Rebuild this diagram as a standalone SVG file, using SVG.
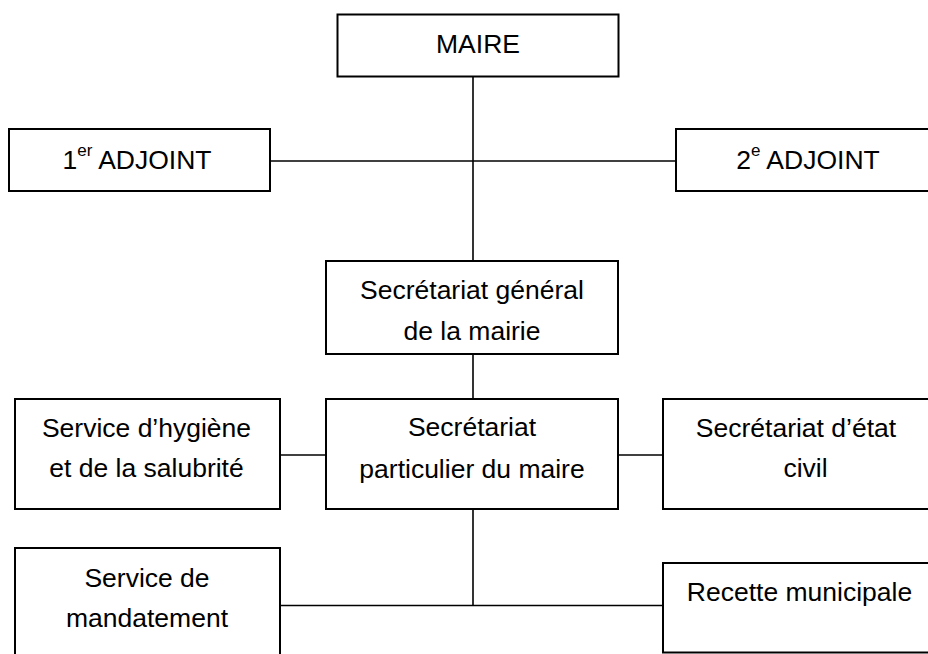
<svg xmlns="http://www.w3.org/2000/svg" width="928" height="654" viewBox="0 0 928 654">
<style>
.box{fill:#fff;stroke:#000;stroke-width:2}
.ln{fill:none;stroke:#000;stroke-width:1.6}
.t{font-family:"Liberation Sans",Arial,sans-serif;font-size:26.5px;fill:#000;text-anchor:middle}
.sup{font-size:17px}
</style>
<rect width="928" height="654" fill="#fff"/>
<g id="connectors">
<line class="ln" x1="473" y1="76" x2="473" y2="261"/>
<line class="ln" x1="270" y1="161" x2="676" y2="161"/>
<line class="ln" x1="473" y1="354" x2="473" y2="399"/>
<line class="ln" x1="280" y1="455" x2="326" y2="455"/>
<line class="ln" x1="618" y1="455" x2="663" y2="455"/>
<line class="ln" x1="473" y1="509" x2="473" y2="605.5"/>
<line class="ln" x1="280" y1="605.5" x2="663" y2="605.5"/>
</g>
<g id="maire">
<rect class="box" x="337.5" y="14.5" width="281" height="62"/>
<text class="t" x="478" y="53">MAIRE</text>
</g>
<g id="adjoint1">
<rect class="box" x="9" y="129" width="261" height="62"/>
<text class="t" x="137" y="169">1<tspan class="sup" dy="-13">er</tspan><tspan dy="13"> ADJOINT</tspan></text>
</g>
<g id="adjoint2">
<rect class="box" x="676" y="129" width="262" height="62"/>
<text class="t" x="808" y="169">2<tspan class="sup" dy="-13">e</tspan><tspan dy="13"> ADJOINT</tspan></text>
</g>
<g id="sec-general">
<rect class="box" x="326" y="261" width="292" height="93"/>
<text class="t" x="472" y="299">Secrétariat général</text>
<text class="t" x="472" y="340">de la mairie</text>
</g>
<g id="hygiene">
<rect class="box" x="15" y="399" width="265" height="110"/>
<text class="t" x="146.5" y="437">Service d’hygiène</text>
<text class="t" x="146.5" y="477">et de la salubrité</text>
</g>
<g id="sec-particulier">
<rect class="box" x="326" y="399" width="292" height="110"/>
<text class="t" x="472" y="436">Secrétariat</text>
<text class="t" x="472" y="478">particulier du maire</text>
</g>
<g id="etat-civil">
<rect class="box" x="663" y="399" width="275" height="110"/>
<text class="t" x="796" y="437">Secrétariat d’état</text>
<text class="t" x="805.5" y="477">civil</text>
</g>
<g id="mandatement">
<rect class="box" x="15" y="548" width="265" height="115"/>
<text class="t" x="147" y="587">Service de</text>
<text class="t" x="147" y="627">mandatement</text>
</g>
<g id="recette">
<rect class="box" x="663" y="563" width="275" height="89.5"/>
<text class="t" x="799.5" y="600.5">Recette municipale</text>
</g>
</svg>
